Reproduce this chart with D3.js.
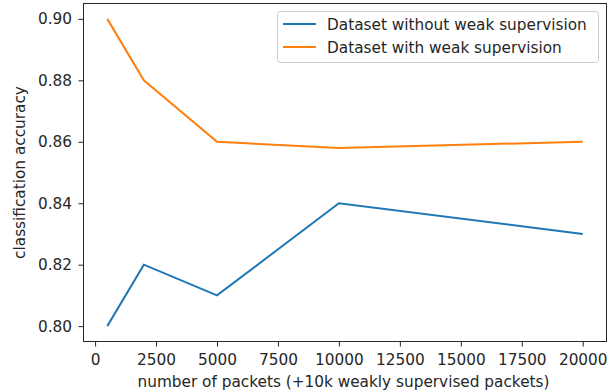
<!DOCTYPE html>
<html><head><meta charset="utf-8">
<script src="https://cdn.jsdelivr.net/npm/d3@7"></script>
<style>body{margin:0;background:#fff}svg{display:block}text{font-family:"DejaVu Sans",sans-serif;fill:#262626}</style>
</head><body><svg id="c" width="615" height="391"></svg>
<script>
const packets = [500, 2000, 5000, 10000, 20000];
const withoutWeak = [0.80, 0.82, 0.81, 0.84, 0.83];
const withWeak = [0.90, 0.88, 0.86, 0.858, 0.86];
const xTicks = [0, 2500, 5000, 7500, 10000, 12500, 15000, 17500, 20000];
const yTicks = [0.80, 0.82, 0.84, 0.86, 0.88, 0.90];
const seriesNames = ["Dataset without weak supervision", "Dataset with weak supervision"];
const colors = ["#1f77b4", "#ff7f0e"];

const svg = d3.select("#c");
const L = 83.5, R = 606.5, T = 3.5, B = 341.5;
const x = d3.scaleLinear().domain([-475, 20975]).range([L, R]);
const y = d3.scaleLinear().domain([0.795, 0.905]).range([B, T]);
const fs = 15.3;

const xa = svg.append("g").attr("transform", `translate(0,${B})`)
  .call(d3.axisBottom(x).tickValues(xTicks).tickFormat(d3.format("d")).tickSize(5).tickPadding(8));
const ya = svg.append("g").attr("transform", `translate(${L},0)`)
  .call(d3.axisLeft(y).tickValues(yTicks).tickFormat(d3.format(".2f")).tickSize(5).tickPadding(6.5));
[xa, ya].forEach(g => {
  g.select(".domain").remove();
  g.selectAll("line").attr("stroke", "#262626").attr("stroke-width", 1);
  g.selectAll("text").attr("font-size", fs).attr("font-family", "DejaVu Sans").attr("fill", "#262626");
});

const line = d3.line().x((d, i) => x(packets[i])).y(d => y(d));
[withoutWeak, withWeak].forEach((s, k) => {
  svg.append("path").attr("d", line(s)).attr("fill", "none")
    .attr("stroke", colors[k]).attr("stroke-width", 2);
});

svg.append("rect").attr("x", L).attr("y", T).attr("width", R - L).attr("height", B - T)
  .attr("fill", "none").attr("stroke", "#262626").attr("stroke-width", 1);

// legend
const lg = svg.append("g");
lg.append("rect").attr("x", 277.5).attr("y", 11.5).attr("width", 321).attr("height", 51)
  .attr("rx", 3).attr("fill", "#fff").attr("stroke", "#cccccc");
seriesNames.forEach((n, k) => {
  const yy = 24 + k * 23;
  lg.append("line").attr("x1", 283).attr("x2", 316).attr("y1", yy).attr("y2", yy)
    .attr("stroke", colors[k]).attr("stroke-width", 2);
  lg.append("text").attr("x", 327).attr("y", yy + 5.5).attr("font-size", fs).text(n);
});

svg.append("text").attr("x", 343.5).attr("y", 386.5).attr("text-anchor", "middle")
  .attr("font-size", fs).text("number of packets (+10k weakly supervised packets)");
svg.append("text").attr("transform", `translate(25,${(T + B) / 2}) rotate(-90)`)
  .attr("text-anchor", "middle").attr("font-size", fs).text("classification accuracy");
</script></body></html>
